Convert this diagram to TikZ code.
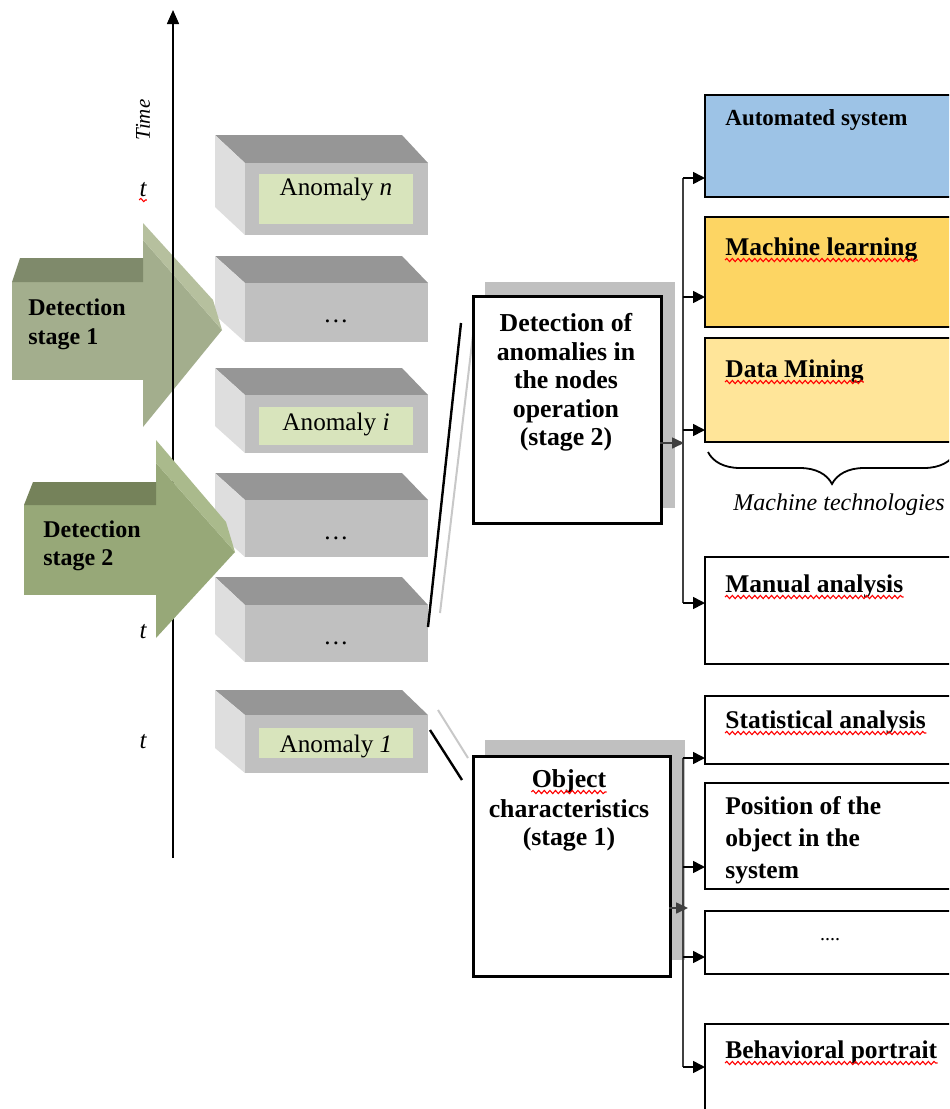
\documentclass[tikz,border=0pt]{standalone}
\usepackage{fontspec}
\setmainfont{Liberation Serif}
\usetikzlibrary{decorations.pathmorphing,decorations.pathreplacing,arrows.meta}

\definecolor{boxtopc}{HTML}{969696}
\definecolor{boxleftc}{HTML}{DEDEDE}
\definecolor{boxfrontc}{HTML}{C0C0C0}
\definecolor{labelc}{HTML}{D8E4BC}
\definecolor{aonefront}{HTML}{A3AE8D}
\definecolor{aonetop}{HTML}{7F8A6B}
\definecolor{aoneband}{HTML}{B6C09E}
\definecolor{atwofront}{HTML}{97A878}
\definecolor{atwotop}{HTML}{75825A}
\definecolor{atwoband}{HTML}{AABA8C}
\definecolor{autoc}{HTML}{9DC3E6}
\definecolor{mlc}{HTML}{FDD563}
\definecolor{dmc}{HTML}{FFE599}
\definecolor{shadowc}{HTML}{C0C0C0}
\definecolor{busc}{HTML}{404040}
\definecolor{thinlinec}{HTML}{C8C8C8}

\newcommand{\anombox}[3]{%
  \fill[boxtopc] (215,#1) -- (402,#1) -- (428,#2) -- (245,#2) -- cycle;
  \fill[boxleftc] (215,#1) -- (245,#2) -- (245,#3) -- (215,{#3-#2+#1}) -- cycle;
  \fill[boxfrontc] (245,#2) rectangle (428,#3);
}

\tikzset{
  rbox/.style={draw=black, line width=1.2pt},
  cbox/.style={draw=black, line width=1.4pt, fill=white, inner sep=0pt, anchor=north west},
  squig/.style={draw=red, line width=0.55pt, decorate, decoration={snake, amplitude=0.8pt, segment length=2.8pt}},
  rtext/.style={anchor=base west, inner sep=0pt, font=\bfseries\fontsize{12.75}{15}\selectfont},
  ctext/.style={anchor=base, inner sep=0pt, font=\bfseries\fontsize{12.9}{15}\selectfont},
  stext/.style={anchor=base west, inner sep=0pt, font=\bfseries\fontsize{12}{14}\selectfont},
  atext/.style={anchor=base, inner sep=0pt, font=\fontsize{12.6}{15}\selectfont},
  tlbl/.style={anchor=base, inner sep=0pt, font=\itshape\fontsize{12.5}{15}\selectfont},
  bus/.style={draw=busc, line width=0.8pt},
  busarrow/.style={draw=black, line width=0.8pt, -{Triangle[length=6pt,width=6pt]}},
  grayarrow/.style={draw=busc, line width=0.8pt, -{Triangle[length=6pt,width=5.5pt,fill=busc]}},
  blackline/.style={draw=black, line width=1.2pt},
  grayline/.style={draw=thinlinec, line width=1pt},
}

\begin{document}
\begin{tikzpicture}[x=0.5pt,y=-0.5pt]
\useasboundingbox (0,0) rectangle (949,1109);
\clip (0,0) rectangle (949,1109);
\fill[white] (0,0) rectangle (949,1109);

% ---------- 3D anomaly boxes ----------
\anombox{135}{163}{235}
\fill[labelc] (259,174) rectangle (413,224);
\node[atext] (an) at (336,195) {Anomaly \textit{n}};

\anombox{256}{283}{342}
\node[atext] (d1) at (336,322) {\ldots};

\anombox{368}{395}{453}
\fill[labelc] (259,407) rectangle (413,445);
\node[atext] (ai) at (336,430) {Anomaly \textit{i}};

\anombox{473}{500}{557}
\node[atext] (d2) at (336,539) {\ldots};

\anombox{577}{605}{662}
\node[atext] (d3) at (336,644) {\ldots};

\anombox{690}{715}{773}
\fill[labelc] (259,728) rectangle (413,758);
\node[atext] (a1) at (336,752) {Anomaly \textit{1}};

% ---------- Detection stage 1 arrow ----------
\fill[aonefront] (12,282) rectangle (143,380);
\fill[aonefront] (143,240) -- (222,330) -- (143,427) -- cycle;
\fill[aonetop] (12,282) -- (20,258) -- (143,258) -- (143,282) -- cycle;
\fill[aoneband] (143,240) -- (143,223) -- (213,300) -- (222,330) -- cycle;
\node[stext] (s1a) at (28,315) {Detection};
\node[stext] (s1b) at (28,344) {stage 1};

% ---------- time axis ----------
\coordinate (axbot) at (173,858);
\coordinate (axtop) at (173,10);
\draw[line width=0.8pt, -{Triangle[length=7pt,width=6pt]}] (axbot) -- (axtop);
\node[rotate=90, inner sep=0pt, font=\itshape\fontsize{10.5}{12}\selectfont] (timelbl) at (143,120) {Time};
\node[tlbl] (t1) at (143,196) {t};
\draw[squig] ([yshift=-2pt]t1.base west) -- ([yshift=-2pt]t1.base east);
\node[tlbl] (t2) at (143,638) {t};
\node[tlbl] (t3) at (143,748) {t};

% ---------- Detection stage 2 arrow ----------
\fill[atwofront] (24,505) rectangle (156,595);
\fill[atwofront] (156,463) -- (235,552) -- (156,638) -- cycle;
\fill[atwotop] (24,505) -- (33,482) -- (156,482) -- (156,505) -- cycle;
\fill[atwoband] (156,463) -- (156,440) -- (226,522) -- (235,552) -- cycle;
\node[stext] (s2a) at (43,537) {Detection};
\node[stext] (s2b) at (43,565) {stage 2};

% ---------- connector lines to centre boxes ----------
\coordinate (b5r) at (428,627);
\coordinate (c2a) at (461,323);
\coordinate (b5g) at (440,613);
\coordinate (c2g) at (473,335);
\coordinate (b6r) at (430,730);
\coordinate (c1a) at (462,780);
\coordinate (b6g) at (438,710);
\coordinate (c1g) at (468,758);
\draw[grayline] (b5g) -- (c2g);
\draw[grayline] (b6g) -- (c1g);
\draw[blackline] (b5r) -- (c2a);
\draw[blackline] (b6r) -- (c1a);

% ---------- centre box stage 2 ----------
\fill[shadowc] (485,282) rectangle (675,508);
\node[cbox, minimum width=94pt, minimum height=113.5pt] (det2) at (472,295) {};
\node[ctext] (l1) at (566,331) {Detection of};
\node[ctext] (l2) at (566,360) {anomalies in};
\node[ctext] (l3) at (566,388) {the nodes};
\node[ctext] (l4) at (566,417) {operation};
\node[ctext] (l5) at (566,445) {(stage 2)};

% ---------- centre box stage 1 ----------
\fill[shadowc] (485,740) rectangle (685,960);
\node[cbox, minimum width=98.5pt, minimum height=110pt] (det1) at (472,755) {};
\node[ctext] (o1) at (569,787) {Object};
\draw[squig] ([yshift=-2.5pt]o1.base west) -- ([yshift=-2.5pt]o1.base east);
\node[ctext] (o2) at (569,817) {characteristics};
\node[ctext] (o3) at (569,845) {(stage 1)};

% ---------- right boxes ----------
\draw[rbox, fill=autoc] (705,95) rectangle (965,197);
\node[rtext, font=\bfseries\fontsize{11.5}{14}\selectfont] (tauto) at (725,125) {Automated system};

\draw[rbox, fill=mlc] (705,217) rectangle (965,327);
\node[rtext] (tml) at (725,255) {Machine learning};
\draw[squig] ([yshift=-2.5pt]tml.base west) -- ([yshift=-2.5pt]tml.base east);

\draw[rbox, fill=dmc] (705,338) rectangle (965,442);
\node[rtext] (tdm) at (725,377) {Data Mining};
\draw[squig] ([yshift=-2.5pt]tdm.base west) -- ([yshift=-2.5pt]tdm.base east);

\draw[decorate, decoration={brace, mirror, amplitude=16pt}, line width=0.9pt] (708,452) -- (956,452);
\node[anchor=base, inner sep=0pt, font=\itshape\fontsize{12}{14}\selectfont] (mtech) at (839,510) {Machine technologies};

\draw[rbox, fill=white] (705,557) rectangle (965,664);
\node[rtext] (tman) at (725,592) {Manual analysis};
\draw[squig] ([yshift=-2.5pt]tman.base west) -- ([yshift=-2.5pt]tman.base east);

\draw[rbox, fill=white] (705,696) rectangle (965,764);
\node[rtext] (tstat) at (725,728) {Statistical analysis};
\draw[squig] ([yshift=-2.5pt]tstat.base west) -- ([yshift=-2.5pt]tstat.base east);

\draw[rbox, fill=white] (705,783) rectangle (965,889);
\node[rtext] (tpos1) at (725,814) {Position of the};
\node[rtext] (tpos2) at (725,846) {object in the};
\node[rtext] (tpos3) at (725,878) {system};

\draw[rbox, fill=white] (705,911) rectangle (965,974);
\node[anchor=base, inner sep=0pt, font=\fontsize{10}{12}\selectfont] (tdots) at (830,940) {....};

\draw[rbox, fill=white] (705,1024) rectangle (965,1110);
\node[rtext] (tbeh) at (725,1058) {Behavioral portrait};
\draw[squig] ([yshift=-2.5pt]tbeh.base west) -- ([yshift=-2.5pt]tbeh.base east);

% ---------- top bus ----------
\coordinate (tb1) at (683,178);
\coordinate (tb2) at (683,297);
\coordinate (tb3) at (683,430);
\coordinate (tb4) at (683,603);
\coordinate (ta1) at (705,178);
\coordinate (ta2) at (705,297);
\coordinate (ta3) at (705,430);
\coordinate (ta4) at (705,603);
\draw[bus] (tb1) -- (tb4);
\draw[busarrow] (tb1) -- (ta1);
\draw[busarrow] (tb2) -- (ta2);
\draw[busarrow] (tb3) -- (ta3);
\draw[busarrow] (tb4) -- (ta4);
\coordinate (d2out) at (660,443);
\coordinate (d2in) at (684,443);
\draw[grayarrow] (d2out) -- (d2in);

% ---------- bottom bus ----------
\coordinate (bb1) at (683,758);
\coordinate (bb2) at (683,867);
\coordinate (bb3) at (683,957);
\coordinate (bb4) at (683,1067);
\coordinate (ba1) at (705,758);
\coordinate (ba2) at (705,867);
\coordinate (ba3) at (705,957);
\coordinate (ba4) at (705,1067);
\draw[bus] (bb1) -- (bb4);
\draw[busarrow] (bb1) -- (ba1);
\draw[busarrow] (bb2) -- (ba2);
\draw[busarrow] (bb3) -- (ba3);
\draw[busarrow] (bb4) -- (ba4);
\coordinate (d1out) at (669,908);
\coordinate (d1in) at (688,908);
\draw[grayarrow] (d1out) -- (d1in);
\end{tikzpicture}
\end{document}
